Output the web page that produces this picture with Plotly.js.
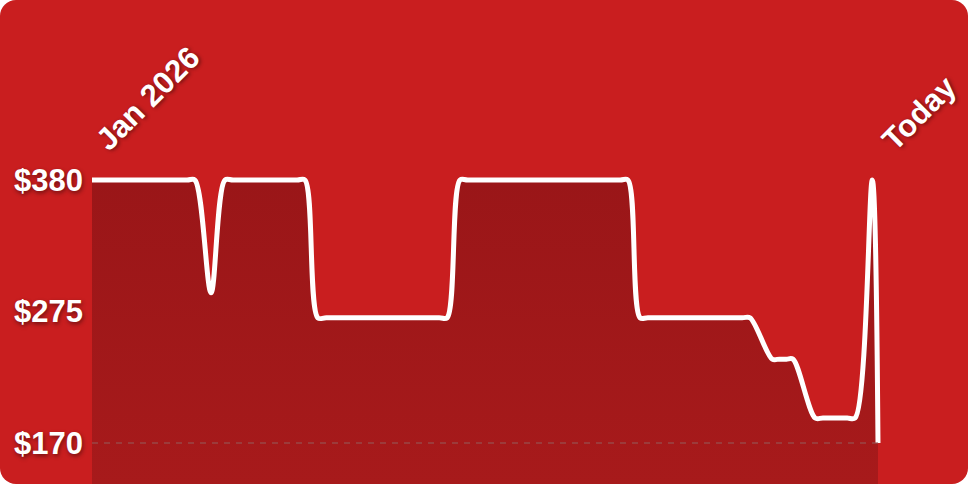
<!DOCTYPE html>
<html>
<head>
<meta charset="utf-8">
<script src="https://cdn.plot.ly/plotly-3.0.1.min.js"></script>
<style>
html, body { margin: 0; padding: 0; background: #ffffff; }
#Pricechart { width: 968px; height: 484px; border-radius: 16px; overflow: hidden; }
</style>
</head>
<body>
<div id="Pricechart"></div>
<script>
// days since Jan 1 2026, price in $
var days = [0, 6.65, 7.2, 8.33, 9.3, 9.87, 14.35, 14.9, 15.8, 16.4, 24.3, 24.85, 25.75, 26.3, 36.95, 37.5,
  38.35, 38.9, 45.5, 46.05, 47.6, 48.1, 48.6, 49.05, 50.6, 51.15, 52.85, 53.4, 54.6, 55];
var prices = [380, 380, 380, 290, 380, 380, 380, 380, 270, 270, 270, 270, 380, 380, 380, 380,
  270, 270, 270, 270, 237, 237, 237, 237, 190, 190, 190, 190, 380, 170];

var yTicks = [170, 275, 380];
var yLabels = ['$170', '$275', '$380'];
var xTicks = [0, 55];
var xLabels = ['Jan 2026', 'Today'];

var labelFont = {
  family: 'Liberation Sans, Arial, sans-serif',
  size: 31,
  color: '#ffffff',
  weight: 'bold',
  shadow: '1px 2px 4px rgba(0,0,0,0.45)'
};

var trace1 = {
  x: days,
  y: prices,
  type: 'scatter',
  mode: 'lines',
  line: {color: '#ffffff', width: 5, shape: 'spline', smoothing: 0.9},
  fill: 'tozeroy',
  fillgradient: {
    type: 'vertical',
    start: 137,
    stop: 380,
    colorscale: [[0, '#a71a1b'], [1, '#9a1618']]
  },
  hoverinfo: 'skip'
};

// x range runs a bit past the last day so the end of the line is not cut
var layout = {
  width: 968,
  height: 484,
  paper_bgcolor: '#c91e1f',
  plot_bgcolor: 'rgba(0,0,0,0)',
  margin: {l: 92, r: 80, t: 170, b: 0},
  showlegend: false,
  xaxis: {
    range: [0, 55.7],
    side: 'top',
    tickvals: xTicks,
    ticktext: xLabels,
    tickangle: -45,
    tickfont: labelFont,
    ticklabelstandoff: 6,
    ticklabelshift: 6,
    showgrid: false,
    zeroline: false,
    showline: false,
    ticks: ''
  },
  yaxis: {
    range: [137.3, 388],
    tickvals: yTicks,
    ticktext: yLabels,
    tickfont: labelFont,
    showgrid: false,
    zeroline: false,
    showline: false,
    ticks: '',
    ticklabelstandoff: 8
  },
  shapes: [{
    type: 'line',
    xref: 'x',
    x0: days[0],
    x1: days[days.length - 1],
    yref: 'y',
    y0: yTicks[0],
    y1: yTicks[0],
    layer: 'above',
    line: {color: 'rgba(150,85,85,0.75)', width: 1.5, dash: '6px,6px'}
  }]
};

Plotly.newPlot('Pricechart', [trace1], layout, {displayModeBar: false, staticPlot: true});
</script>
</body>
</html>
